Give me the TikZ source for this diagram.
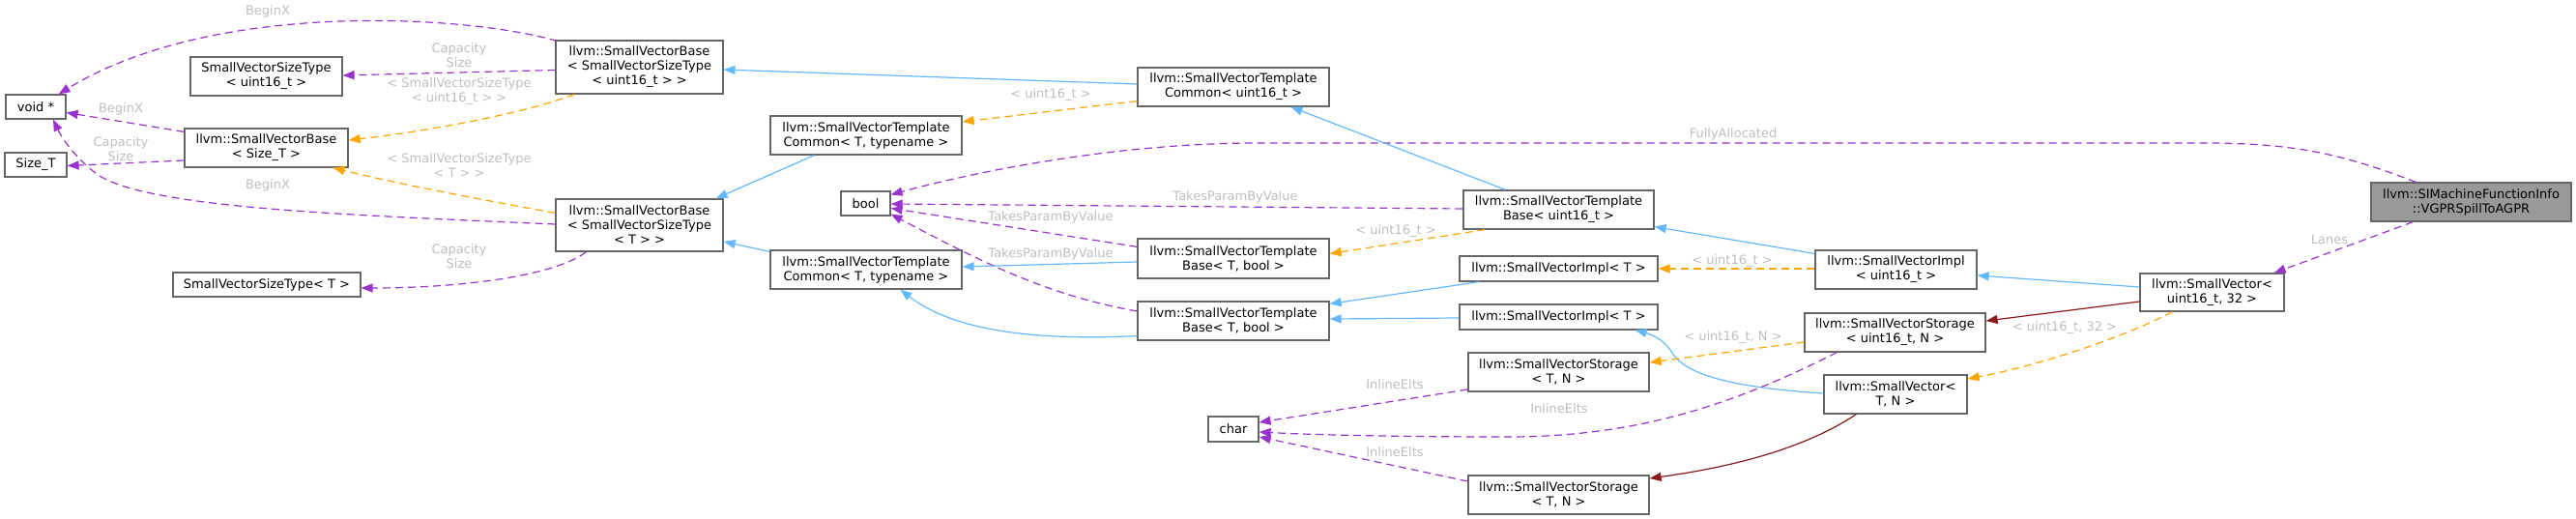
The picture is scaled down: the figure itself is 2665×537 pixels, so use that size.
\documentclass[tikz,border=0pt]{standalone}
\usepackage{fontspec}
\setmainfont{DejaVu Sans}
\usetikzlibrary{arrows.meta,calc}
\definecolor{boxc}{HTML}{666666}
\definecolor{inhc}{HTML}{63B8FF}
\definecolor{usec}{HTML}{9A32CD}
\definecolor{tplc}{HTML}{FFA500}
\definecolor{protc}{HTML}{8B1A1A}
\definecolor{lblc}{HTML}{BEBEBE}
\definecolor{mainc}{HTML}{999999}
\newcommand{\dxfs}{\fontsize{13pt}{15pt}\selectfont}
\tikzset{
  cls/.style={draw=boxc, fill=white, line width=1.2pt, inner sep=0pt, align=center, font=\dxfs},
  mainbox/.style={cls, fill=mainc},
  lbl/.style={text=lblc, font=\dxfs, align=center, inner sep=0pt},
  tipd/.style={-{Triangle[length=12pt,width=9pt]}},
  inh/.style={draw=inhc, line width=1.2pt, tipd},
  prot/.style={draw=protc, line width=1.2pt, tipd},
  use/.style={draw=usec, line width=1.2pt, dash pattern=on 8pt off 5pt, tipd},
  tpl/.style={draw=tplc, line width=1.2pt, dash pattern=on 8pt off 5pt, tipd},
}
\begin{document}
\begin{tikzpicture}[x=1pt,y=-1pt]
\useasboundingbox (0,0) rectangle (2665,537);

% nodes
\node[cls, minimum width=62pt, minimum height=25pt] (void) at (37,110.5) {void *};
\node[cls, minimum width=64pt, minimum height=25pt] (sizet) at (37,170.5) {Size\_T};
\node[cls, minimum width=157pt, minimum height=40pt] (svst16) at (275.5,79) {SmallVectorSizeType\\< uint16\_t >};
\node[cls, minimum width=169pt, minimum height=40pt] (svbsz) at (275.5,153) {llvm::SmallVectorBase\\< Size\_T >};
\node[cls, minimum width=194pt, minimum height=25pt] (svstT) at (276,294.5) {SmallVectorSizeType< T >};
\node[cls, minimum width=173pt, minimum height=55pt] (svbu) at (661.5,69.5) {llvm::SmallVectorBase\\< SmallVectorSizeType\\< uint16\_t > >};
\node[cls, minimum width=173pt, minimum height=54pt] (svbt) at (661.5,233) {llvm::SmallVectorBase\\< SmallVectorSizeType\\< T > >};
\node[cls, minimum width=198pt, minimum height=40pt] (svtct1) at (896,140) {llvm::SmallVectorTemplate\\Common< T, typename >};
\node[cls, minimum width=198pt, minimum height=40pt] (svtct2) at (896,279) {llvm::SmallVectorTemplate\\Common< T, typename >};
\node[cls, minimum width=51pt, minimum height=25pt] (bool) at (895.5,210.5) {bool};
\node[cls, minimum width=198pt, minimum height=40pt] (svtcu) at (1276,90) {llvm::SmallVectorTemplate\\Common< uint16\_t >};
\node[cls, minimum width=198pt, minimum height=41pt] (svtbb1) at (1276,267.5) {llvm::SmallVectorTemplate\\Base< T, bool >};
\node[cls, minimum width=198pt, minimum height=40pt] (svtbb2) at (1276,332) {llvm::SmallVectorTemplate\\Base< T, bool >};
\node[cls, minimum width=52pt, minimum height=26pt] (char) at (1276,444) {char};
\node[cls, minimum width=197pt, minimum height=40pt] (svtbu) at (1612.5,217) {llvm::SmallVectorTemplate\\Base< uint16\_t >};
\node[cls, minimum width=205pt, minimum height=26pt] (svimt1) at (1612.5,278) {llvm::SmallVectorImpl< T >};
\node[cls, minimum width=205pt, minimum height=26pt] (svimt2) at (1612.5,328) {llvm::SmallVectorImpl< T >};
\node[cls, minimum width=187pt, minimum height=40pt] (svsT1) at (1612.5,385) {llvm::SmallVectorStorage\\< T, N >};
\node[cls, minimum width=187pt, minimum height=40pt] (svsT2) at (1612.5,512) {llvm::SmallVectorStorage\\< T, N >};
\node[cls, minimum width=167pt, minimum height=40pt] (svimu) at (1961.5,279) {llvm::SmallVectorImpl\\< uint16\_t >};
\node[cls, minimum width=187pt, minimum height=40pt] (svsu) at (1960.5,344) {llvm::SmallVectorStorage\\< uint16\_t, N >};
\node[cls, minimum width=148pt, minimum height=40pt] (svT) at (1961,408) {llvm::SmallVector<\\T, N >};
\node[cls, minimum width=149pt, minimum height=39pt] (sv16) at (2288.5,302.5) {llvm::SmallVector<\\uint16\_t, 32 >};
\node[mainbox, minimum width=207pt, minimum height=40pt] (vgpr) at (2556.5,209) {llvm::SIMachineFunctionInfo\\::VGPRSpillToAGPR};

% edges
\draw[use] ($(svbu.north west)+(2,1)$) .. controls (480,15) and (220,0) .. ($(void.north east)+(-8,0)$);
\draw[use] ($(svbu.west)+(0,3)$) -- ($(svst16.east)+(0,-1)$);
\draw[inh] ($(svtcu.west)+(0,-3)$) -- ($(svbu.east)+(0,2.5)$);
\draw[tpl] ($(svbu.south west)+(20,0)$) .. controls (540,118) and (440,136) .. ($(svbsz.east)+(0,-8)$);
\draw[use] ($(svbsz.north west)+(0,4)$) -- ($(void.east)+(0,6)$);
\draw[use] ($(svbsz.west)+(0,13)$) -- ($(sizet.east)+(0,1)$);
\draw[use] ($(svbt.west)+(0,-1)$) .. controls (350,222) and (150,215) .. (100,180) .. controls (80,165) and (65,145) .. ($(void.south)+(18,0)$);
\draw[tpl] ($(svbt.north west)+(0,15)$) .. controls (490,205) and (410,190) .. ($(svbsz.south east)+(-16,0)$);
\draw[use] ($(svbt.south west)+(32,0)$) .. controls (575,285) and (480,298) .. ($(svstT.east)+(0,3.5)$);
\draw[inh] ($(svtct1.south west)+(46,0)$) -- ($(svbt.north east)+(-8,0)$);
\draw[tpl] ($(svtcu.south west)+(0,-6)$) -- ($(svtct1.east)+(0,-14)$);
\draw[inh] ($(svtct2.north west)+(0,2)$) -- ($(svbt.east)+(0,17)$);
\draw[use] ($(vgpr.north west)+(47,0)$) .. controls (2420,158) and (2370,148) .. (2280,148) -- (1300,148) .. controls (1150,148) and (1000,180) .. ($(bool.north east)+(0,4)$);
\draw[use] ($(svtbu.west)+(0,-1)$) -- ($(bool.east)+(0,0.5)$);
\draw[use] ($(svtbb1.north west)+(0,9)$) -- ($(bool.east)+(0,5)$);
\draw[use] ($(svtbb2.west)+(0,-10)$) .. controls (1080,305) and (1010,268) .. ($(bool.south east)+(0,-2)$);
\draw[inh] ($(svtbu.north west)+(44,0)$) -- ($(svtcu.south west)+(159,0)$);
\draw[tpl] ($(svtbu.south west)+(23,0)$) -- ($(svtbb1.east)+(0,-5)$);
\draw[inh] ($(svtbb1.west)+(0,3.5)$) -- ($(svtct2.east)+(0,-3)$);
\draw[inh] ($(svtbb2.south west)+(0,-5)$) .. controls (1080,352) and (990,345) .. ($(svtct2.south west)+(135,0)$);
\draw[inh] ($(svimu.north west)+(0,4)$) -- ($(svtbu.south east)+(0,-3)$);
\draw[tpl] ($(svimu.west)+(0,-1)$) -- (svimt1.east);
\draw[inh] ($(svimt1.south west)+(21,0)$) -- ($(svtbb2.north east)+(0,3)$);
\draw[inh] ($(svimt2.west)+(0,1)$) -- ($(svtbb2.east)+(0,-2)$);
\draw[inh] ($(svT.west)+(0,-1)$) .. controls (1780,400) and (1740,385) .. (1728,362) .. controls (1720,350) and (1705,345) .. ($(svimt2.south east)+(-24,0)$);
\draw[tpl] ($(svsu.west)+(0,10)$) -- ($(svsT1.east)+(0,-10)$);
\draw[use] ($(svsu.south west)+(34,0)$) .. controls (1800,415) and (1700,452) .. (1560,452) .. controls (1450,452) and (1360,450) .. ($(char.east)+(0,3)$);
\draw[use] ($(svsT1.west)+(0,18)$) -- ($(char.east)+(0,-7)$);
\draw[use] ($(svsT2.west)+(0,-14)$) -- ($(char.east)+(0,8)$);
\draw[prot] ($(svT.south west)+(34,0)$) .. controls (1870,462) and (1800,482) .. ($(svsT2.east)+(0,-17)$);
\draw[inh] ($(sv16.west)+(0,-5.5)$) -- ($(svimu.east)+(0,6)$);
\draw[prot] ($(sv16.west)+(0,9.5)$) -- ($(svsu.east)+(0,-12)$);
\draw[tpl] ($(sv16.south west)+(34,0)$) .. controls (2200,348) and (2110,378) .. ($(svT.east)+(0,-16)$);
\draw[use] ($(vgpr.south west)+(44,0)$) -- ($(sv16.north east)+(-11,0)$);

% labels
\node[lbl] (l1) at (277,12) {BeginX};
\node[lbl] (l2) at (475,57.5) {Capacity\\Size};
\node[lbl] (l3) at (475,95) {< SmallVectorSizeType\\< uint16\_t > >};
\node[lbl] (l4) at (125,113) {BeginX};
\node[lbl] (l5) at (125,154) {Capacity\\Size};
\node[lbl] (l6) at (277,192) {BeginX};
\node[lbl] (l7) at (475,171.5) {< SmallVectorSizeType\\< T > >};
\node[lbl] (l8) at (475,265) {Capacity\\Size};
\node[lbl] (l9) at (1087,98) {< uint16\_t >};
\node[lbl] (l10) at (1793,139) {FullyAllocated};
\node[lbl] (l11) at (1278,204) {TakesParamByValue};
\node[lbl] (l12) at (1087,225) {TakesParamByValue};
\node[lbl] (l13) at (1087,263) {TakesParamByValue};
\node[lbl] (l14) at (1444,239) {< uint16\_t >};
\node[lbl] (l15) at (1792,270) {< uint16\_t >};
\node[lbl] (l16) at (1793,349) {< uint16\_t, N >};
\node[lbl] (l17) at (1613,423) {InlineElts};
\node[lbl] (l18) at (1443,398) {InlineElts};
\node[lbl] (l19) at (1443,468) {InlineElts};
\node[lbl] (l20) at (2136,339) {< uint16\_t, 32 >};
\node[lbl] (l21) at (2410,248) {Lanes};
\end{tikzpicture}
\end{document}
